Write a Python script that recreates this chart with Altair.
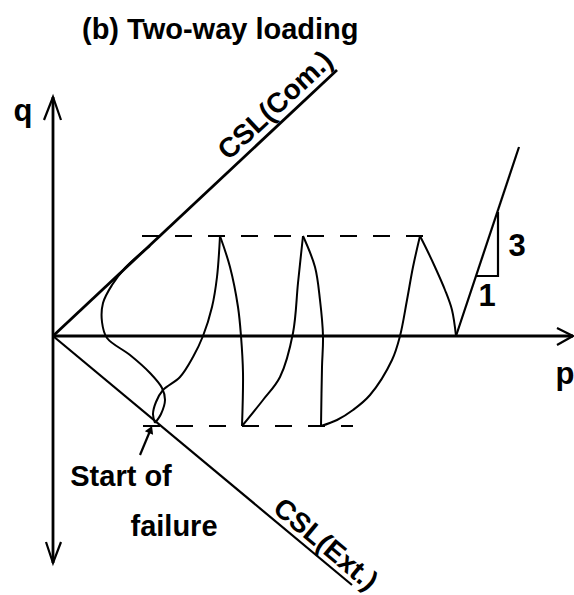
import altair as alt
import pandas as pd

# Stress paths in the p-q plane (diagram units, origin at the axes' crossing)
load1_p = [4.03, 3.99, 3.92, 3.82, 3.74, 3.67]
load1_q = [0.00, 0.26, 0.46, 0.69, 0.86, 1.00]
unload1_p = [3.67, 3.60, 3.54, 3.47, 3.39, 3.17, 3.00, 2.84, 2.68]
unload1_q = [1.00, 0.69, 0.36, 0.00, -0.24, -0.59, -0.74, -0.84, -0.90]
load2_p = [2.68, 2.69, 2.70, 2.67, 2.62, 2.50]
load2_q = [-0.90, -0.31, 0.00, 0.36, 0.69, 1.00]
unload2_p = [2.50, 2.45, 2.40, 2.27, 2.10, 1.89]
unload2_q = [1.00, 0.53, 0.03, -0.41, -0.64, -0.90]
load3_p = [1.89, 1.90, 1.88, 1.85, 1.77, 1.67]
load3_q = [-0.90, -0.37, 0.00, 0.29, 0.69, 1.00]
unload3_p = [1.67, 1.64, 1.59, 1.50, 1.40, 1.27, 1.10, 1.03, 1.00, 1.02]
unload3_q = [1.00, 0.59, 0.29, 0.00, -0.21, -0.41, -0.54, -0.66, -0.78, -0.87]
failure_p = [1.02, 1.08, 1.12, 1.09, 0.97, 0.77, 0.54, 0.49, 0.50, 0.59, 0.72, 0.87, 0.97]
failure_q = [-0.87, -0.78, -0.64, -0.52, -0.37, -0.19, -0.02, 0.14, 0.33, 0.51, 0.68, 0.82, 0.90]

# Critical state lines
csl_com_p = [0.0, 2.84]
csl_com_q = [0.0, 2.66]
csl_ext_p = [0.0, 2.99]
csl_ext_q = [0.0, -2.49]

# Cyclic deviator stress amplitude
q_comp = 1.00
q_ext = -0.90
dash_top_p = [0.89, 3.82]
dash_bot_p = [0.90, 3.00]

# Total stress path (slope 3) and its slope triangle
tsp_p = [4.03, 4.66]
tsp_q = [0.00, 1.89]
tri_p = [4.23, 4.45, 4.45]
tri_q = [0.60, 0.60, 1.24]

# Axes with open arrowheads
q_axis_p = [0.0, 0.0]
q_axis_q = [2.39, -2.27]
p_axis_p = [0.0, 5.20]
p_axis_q = [0.0, 0.0]
head_top_p = [-0.09, 0.0, 0.08]
head_top_q = [2.16, 2.39, 2.16]
head_bot_p = [-0.07, 0.0, 0.08]
head_bot_q = [-2.06, -2.27, -2.06]
head_right_p = [5.04, 5.20, 5.04]
head_right_q = [0.08, 0.0, -0.09]

# Pointer to the start of failure
pointer_p = [0.87, 0.97]
pointer_q = [-1.19, -0.95]
pointer_head_p = [0.975]
pointer_head_q = [-0.935]

labels = ["(b) Two-way loading", "q", "p", "3", "1", "Start of", "failure"]
label_p = [0.29, -0.30, 5.12, 4.64, 4.34, 0.68, 1.21]
label_q = [3.06, 2.24, -0.39, 0.89, 0.39, -1.41, -1.91]
label_size = [29, 31, 31, 31, 31, 29, 29]
label_align = ["left", "center", "center", "center", "center", "center", "center"]

csl_labels = ["CSL(Com.)", "CSL(Ext.)"]
csl_label_p = [2.23, 2.72]
csl_label_q = [2.30, -2.09]
csl_label_angle = [317, 40]


def frame(groups):
    rows = []
    for name, ps, qs in groups:
        for i, (p, q) in enumerate(zip(ps, qs)):
            rows.append({"seg": name, "i": i, "p": p, "q": q})
    return pd.DataFrame(rows)


xs = alt.Scale(domain=[-0.53, 5.21], nice=False, zero=False)
ys = alt.Scale(domain=[-2.59, 3.36], nice=False, zero=False)
X = alt.X("p:Q", scale=xs, axis=None)
Y = alt.Y("q:Q", scale=ys, axis=None)
FONT = "Liberation Sans"

paths = frame([
    ("l1", load1_p, load1_q), ("u1", unload1_p, unload1_q),
    ("l2", load2_p, load2_q), ("u2", unload2_p, unload2_q),
    ("l3", load3_p, load3_q), ("u3", unload3_p, unload3_q),
    ("f", failure_p, failure_q),
])
path_layer = alt.Chart(paths).mark_line(
    color="black", strokeWidth=2, interpolate="catmull-rom"
).encode(x=X, y=Y, detail="seg:N", order="i:Q")

thin = frame([
    ("tsp", tsp_p, tsp_q), ("tri", tri_p, tri_q),
    ("ext", csl_ext_p, csl_ext_q),
    ("ht", head_top_p, head_top_q), ("hb", head_bot_p, head_bot_q),
    ("hr", head_right_p, head_right_q),
    ("ptr", pointer_p, pointer_q),
])
thin_layer = alt.Chart(thin).mark_line(color="black", strokeWidth=2.2).encode(
    x=X, y=Y, detail="seg:N", order="i:Q"
)

thick = frame([
    ("com", csl_com_p, csl_com_q),
    ("qa", q_axis_p, q_axis_q), ("pa", p_axis_p, p_axis_q),
])
thick_layer = alt.Chart(thick).mark_line(color="black", strokeWidth=2.8).encode(
    x=X, y=Y, detail="seg:N", order="i:Q"
)

dashed = frame([
    ("top", dash_top_p, [q_comp, q_comp]),
    ("bot", dash_bot_p, [q_ext, q_ext]),
])
dash_layer = alt.Chart(dashed).mark_line(
    color="black", strokeWidth=2, strokeDash=[17, 16]
).encode(x=X, y=Y, detail="seg:N", order="i:Q")

head_layer = alt.Chart(
    pd.DataFrame({"p": pointer_head_p, "q": pointer_head_q})
).mark_point(
    shape="triangle-up", size=80, filled=True, color="black", opacity=1, angle=23
).encode(x=X, y=Y)

text_df = pd.DataFrame({"t": labels, "p": label_p, "q": label_q,
                        "s": label_size, "a": label_align})
text_left = alt.Chart(text_df[text_df.a == "left"]).mark_text(
    align="left", baseline="middle", font=FONT, fontWeight="bold"
).encode(x=X, y=Y, text="t:N", size=alt.Size("s:Q", scale=None, legend=None))
text_center = alt.Chart(text_df[text_df.a == "center"]).mark_text(
    align="center", baseline="middle", font=FONT, fontWeight="bold"
).encode(x=X, y=Y, text="t:N", size=alt.Size("s:Q", scale=None, legend=None))

csl_df = pd.DataFrame({"t": csl_labels, "p": csl_label_p, "q": csl_label_q,
                       "ang": csl_label_angle})
csl_text = alt.Chart(csl_df).mark_text(
    align="center", baseline="middle", font=FONT, fontSize=28, fontWeight="bold"
).encode(x=X, y=Y, text="t:N", angle=alt.Angle("ang:Q", scale=None))

chart = alt.layer(
    dash_layer, path_layer, thin_layer, thick_layer, head_layer,
    text_left, text_center, csl_text,
).properties(
    width=574, height=595, padding=0, autosize=alt.AutoSizeParams(type="none"),
    background="white",
).configure_view(stroke=None)

chart.save("out.html", embed_options={"renderer": "svg", "actions": False})
